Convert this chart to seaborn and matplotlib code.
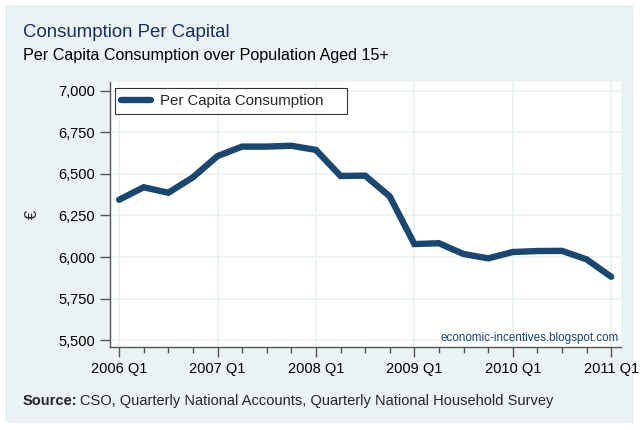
import matplotlib
matplotlib.use("Agg")
import matplotlib.pyplot as plt
import matplotlib.ticker as mticker
from matplotlib.patches import Rectangle
import seaborn as sns
import pandas as pd

# quarterly per capita consumption, 2006 Q1 .. 2011 Q1
quarters = list(range(21))
consumption = [6345, 6420, 6387, 6480, 6608, 6665, 6665, 6670, 6645, 6488,
               6490, 6365, 6078, 6083, 6018, 5992, 6030, 6036, 6037, 5986, 5881]
year_ticks = [0, 4, 8, 12, 16, 20]
year_labels = ["2006 Q1", "2007 Q1", "2008 Q1", "2009 Q1", "2010 Q1", "2011 Q1"]
y_ticks = [5500, 5750, 6000, 6250, 6500, 6750, 7000]

df = pd.DataFrame({"q": quarters, "val": consumption})

sns.set_style("white")
plt.rcParams["font.family"] = ["Liberation Sans", "DejaVu Sans"]

bg = "#eaf2f3"
navy = "#1a476f"

fig = plt.figure(figsize=(6.4, 4.3), dpi=100)
fig.patch.set_facecolor("white")
fig.patches.append(Rectangle((5 / 640, 1 - 423 / 430), 629 / 640, 418 / 430,
                             transform=fig.transFigure, facecolor=bg,
                             edgecolor="none", zorder=-10))

ax = fig.add_axes([110 / 640, 1 - 347 / 430, 511 / 640, 265 / 430])
ax.set_facecolor("white")

sns.lineplot(data=df, x="q", y="val", ax=ax, color=navy, linewidth=4.6,
             label="Per Capita Consumption", solid_joinstyle="miter")

ax.set_xlim(-0.37, 20.4)
ax.set_ylim(5458, 7054)
ax.set_xticks(year_ticks)
ax.set_xticklabels(year_labels)
ax.set_xticks(quarters, minor=True)
ax.set_yticks(y_ticks)
ax.yaxis.set_major_formatter(mticker.FuncFormatter(lambda v, p: f"{int(v):,}"))

ax.grid(True, which="major", color=bg, linewidth=1.2)
ax.set_axisbelow(True)
for s in ["top", "right"]:
    ax.spines[s].set_visible(False)
for s in ["left", "bottom"]:
    ax.spines[s].set_color("#555555")
    ax.spines[s].set_linewidth(1.0)

ax.tick_params(axis="both", which="major", direction="out", length=7, width=1,
               color="#555555", labelsize=10.5, labelcolor="black", pad=4,
               left=True, bottom=True)
ax.tick_params(axis="x", which="minor", direction="out", length=4, width=1,
               color="#555555", bottom=True)

ax.set_xlabel("")
ax.set_ylabel("€", fontsize=12, labelpad=13)

leg = ax.legend(loc="lower left", bbox_to_anchor=(0.0098, 0.879, 0.454, 0.102),
                mode="expand", frameon=True, fancybox=False, fontsize=10.8,
                handlelength=2.0, handletextpad=0.6, borderpad=0.4,
                borderaxespad=0)
leg.get_frame().set_edgecolor("black")
leg.get_frame().set_linewidth(0.8)

ax.text(0.995, 0.012, "economic-incentives.blogspot.com", transform=ax.transAxes,
        ha="right", va="bottom", fontsize=8.4, color=navy)

fig.text(23 / 640, 1 - 37 / 430, "Consumption Per Capital", fontsize=13.4,
         color="#1a2f5e", ha="left", va="baseline")
fig.text(23 / 640, 1 - 60 / 430, "Per Capita Consumption over Population Aged 15+",
         fontsize=11.6, color="black", ha="left", va="baseline")
fig.text(23 / 640, 1 - 405 / 430, "Source:", fontsize=10.5, fontweight="bold",
         ha="left", va="baseline")
fig.text(80 / 640, 1 - 405 / 430,
         "CSO, Quarterly National Accounts, Quarterly National Household Survey",
         fontsize=10.5, ha="left", va="baseline")

fig.savefig("out.png", dpi=100)
